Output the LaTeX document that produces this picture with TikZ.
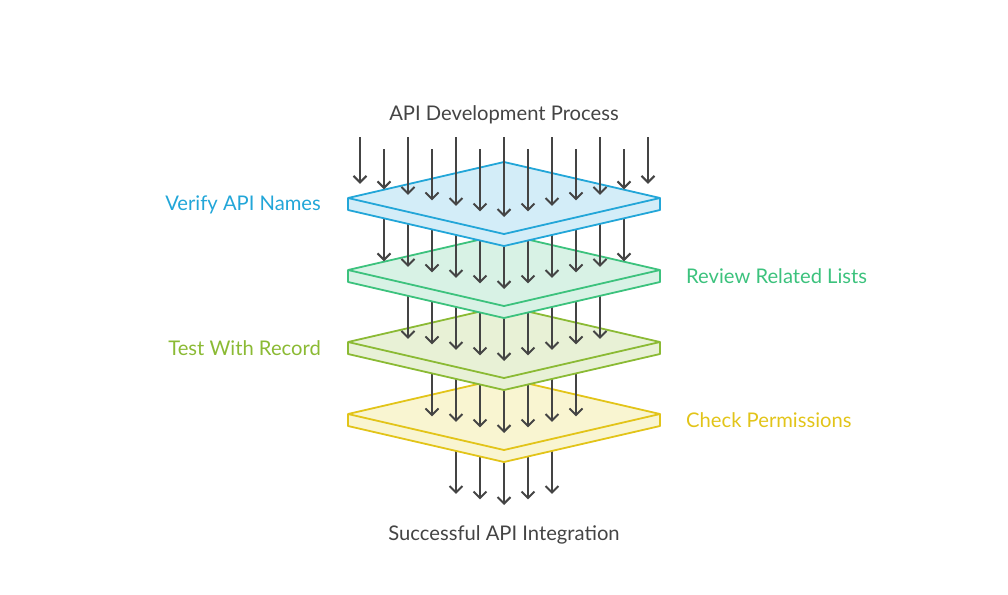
\documentclass[tikz,border=0pt]{standalone}
\usepackage{fontspec}
\setmainfont{Lato}
\usetikzlibrary{arrows.meta}
\definecolor{txt}{HTML}{444444}
\definecolor{arr}{HTML}{444444}
\definecolor{c0s}{HTML}{22A6D8}\definecolor{c0f}{HTML}{D3EDF8}
\definecolor{c1s}{HTML}{3CC27D}\definecolor{c1f}{HTML}{D8F2E5}
\definecolor{c2s}{HTML}{8BBA34}\definecolor{c2f}{HTML}{E8F1D6}
\definecolor{c3s}{HTML}{E2C419}\definecolor{c3f}{HTML}{F9F5D1}
\tikzset{
  flowarrow/.style={draw=arr, line width=2pt, -{Straight Barb[length=6.5pt,width=13pt,line width=2pt]}},
  plate/.style={line width=1.8pt, line join=round},
  lbl/.style={font=\fontsize{20.2}{22}\selectfont, inner sep=0pt},
}
\begin{document}
\begin{tikzpicture}[x=1pt,y=-1pt]
\useasboundingbox (0,0) rectangle (1008,594);
% rows of arrows and plates, drawn from the bottom up
\foreach \r/\p in {4/3,3/2,2/1,1/0}{
  \pgfmathtruncatemacro{\n}{12-2*\r}
  \foreach \k in {0,...,\n}{
    \pgfmathsetmacro{\xx}{360+24*\r+24*\k}
    \pgfmathsetmacro{\ys}{204+72*(\r-1)}
    \pgfmathsetmacro{\ye}{217+72*\r-0.2308*abs(\xx-504)}
    \coordinate (s-\r-\k) at (\xx,\ys);
    \coordinate (e-\r-\k) at (\xx,\ye);
    \draw[flowarrow] (s-\r-\k) -- (e-\r-\k);
  }
  \pgfmathsetmacro{\dy}{72*\p}
  \begin{scope}[yshift=-\dy pt]
    \coordinate (p\p-t) at (504,162);
    \coordinate (p\p-l) at (348,198);
    \coordinate (p\p-r) at (660,198);
    \coordinate (p\p-f) at (504,234);
    \coordinate (p\p-lb) at (348,210);
    \coordinate (p\p-rb) at (660,210);
    \coordinate (p\p-fb) at (504,246);
    \draw[plate, draw=c\p s, fill=c\p f] (p\p-t) -- (p\p-r) -- (p\p-rb) -- (p\p-fb) -- (p\p-lb) -- (p\p-l) -- cycle;
    \draw[plate, draw=c\p s] (p\p-l) -- (p\p-f) -- (p\p-r);
  \end{scope}
}
% top row
\foreach \k in {0,...,12}{
  \pgfmathsetmacro{\xx}{360+24*\k}
  \pgfmathsetmacro{\ys}{mod(\k,2)==0 ? 137 : 149}
  \pgfmathsetmacro{\ye}{217-0.2308*abs(\xx-504)}
  \coordinate (s-0-\k) at (\xx,\ys);
  \coordinate (e-0-\k) at (\xx,\ye);
  \draw[flowarrow] (s-0-\k) -- (e-0-\k);
}
\node[lbl, text=txt] (title) at (504,114.5) {API Development Process};
\node[lbl, text=txt] (goal) at (504,534.5) {Successful API Integration};
\node[lbl, text=c0s, anchor=east] (l0) at (321,204.5) {Verify API Names};
\node[lbl, text=c1s, anchor=west] (l1) at (686,276.5) {Review Related Lists};
\node[lbl, text=c2s, anchor=east] (l2) at (321,348.5) {Test With Record};
\node[lbl, text=c3s, anchor=west] (l3) at (686,420.5) {Check Permissions};
\end{tikzpicture}
\end{document}
